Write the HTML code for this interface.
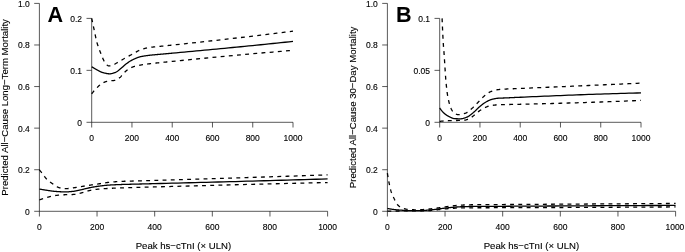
<!DOCTYPE html>
<html><head><meta charset="utf-8"><title>Figure</title>
<style>
html,body{margin:0;padding:0;background:#fff;}
body{width:685px;height:252px;overflow:hidden;}
svg{display:block;will-change:transform;font-family:"Liberation Sans",sans-serif;}
.ax{fill:none;stroke:#000;stroke-width:0.65;}
.so{fill:none;stroke:#000;stroke-width:1.3;stroke-linejoin:round;}
.da{fill:none;stroke:#000;stroke-width:1.3;stroke-dasharray:3.9 4.3;stroke-linejoin:round;}
.tk{font-size:8.5px;fill:#000;stroke:#000;stroke-width:0.12;}
.ti{font-size:9.6px;fill:#000;stroke:#000;stroke-width:0.12;}
.lt{font-size:21.6px;font-weight:bold;fill:#000;}
</style></head><body>
<svg width="685" height="252" viewBox="0 0 685 252">
<rect width="685" height="252" fill="#fff"/>
<path class="ax" d="M39.40 3.40 V211.30 H327.60"/>
<text class="tk" x="39.40" y="230.10" text-anchor="middle">0</text>
<text class="tk" x="97.04" y="230.10" text-anchor="middle">200</text>
<text class="tk" x="154.68" y="230.10" text-anchor="middle">400</text>
<text class="tk" x="212.32" y="230.10" text-anchor="middle">600</text>
<text class="tk" x="269.96" y="230.10" text-anchor="middle">800</text>
<text class="tk" x="327.60" y="230.10" text-anchor="middle">1000</text>
<text class="tk" x="29.80" y="214.80" text-anchor="end">0</text>
<text class="tk" x="29.80" y="173.22" text-anchor="end">0.2</text>
<text class="tk" x="29.80" y="131.64" text-anchor="end">0.4</text>
<text class="tk" x="29.80" y="90.06" text-anchor="end">0.6</text>
<text class="tk" x="29.80" y="48.48" text-anchor="end">0.8</text>
<text class="tk" x="29.80" y="6.90" text-anchor="end">1.0</text>
<path class="ax" d="M39.40 211.30 v5.2 M97.04 211.30 v5.2 M154.68 211.30 v5.2 M212.32 211.30 v5.2 M269.96 211.30 v5.2 M327.60 211.30 v5.2 M39.40 211.30 h-5.2 M39.40 169.72 h-5.2 M39.40 128.14 h-5.2 M39.40 86.56 h-5.2 M39.40 44.98 h-5.2 M39.40 3.40 h-5.2 "/>
<path class="ax" d="M91.70 18.40 V122.30 H293.00"/>
<text class="tk" x="91.70" y="140.80" text-anchor="middle">0</text>
<text class="tk" x="131.96" y="140.80" text-anchor="middle">200</text>
<text class="tk" x="172.22" y="140.80" text-anchor="middle">400</text>
<text class="tk" x="212.48" y="140.80" text-anchor="middle">600</text>
<text class="tk" x="252.74" y="140.80" text-anchor="middle">800</text>
<text class="tk" x="293.00" y="140.80" text-anchor="middle">1000</text>
<text class="tk" x="82.00" y="125.80" text-anchor="end">0</text>
<text class="tk" x="82.00" y="73.85" text-anchor="end">0.1</text>
<text class="tk" x="82.00" y="21.90" text-anchor="end">0.2</text>
<path class="ax" d="M91.70 122.30 v5.2 M131.96 122.30 v5.2 M172.22 122.30 v5.2 M212.48 122.30 v5.2 M252.74 122.30 v5.2 M293.00 122.30 v5.2 M91.70 122.30 h-5.2 M91.70 70.35 h-5.2 M91.70 18.40 h-5.2 "/>
<path class="da" d="M91.70 18.40 L91.80 18.87 L91.90 19.34 L92.00 19.82 L92.10 20.29 L92.20 20.76 L92.30 21.23 L92.40 21.70 L92.51 22.17 L92.61 22.64 L92.71 23.11 L92.81 23.58 L92.91 24.05 L93.01 24.51 L93.11 24.98 L93.21 25.45 L93.31 25.92 L93.41 26.39 L93.51 26.85 L93.61 27.32 L93.71 27.79 L93.81 28.25 L93.91 28.72 L94.01 29.18 L94.12 29.65 L94.22 30.11 L94.32 30.58 L94.42 31.05 L94.52 31.52 L94.62 32.01 L94.72 32.49 L94.82 32.98 L94.92 33.47 L95.02 33.97 L95.12 34.47 L95.22 34.96 L95.32 35.46 L95.42 35.95 L95.52 36.44 L95.63 36.93 L95.73 37.41 L95.83 37.89 L95.93 38.36 L96.03 38.82 L96.13 39.28 L96.23 39.73 L96.33 40.16 L96.43 40.59 L96.53 41.00 L96.63 41.40 L96.73 41.79 L96.83 42.16 L96.93 42.52 L97.03 42.87 L97.14 43.21 L97.24 43.55 L97.34 43.88 L97.44 44.21 L97.54 44.53 L97.64 44.85 L97.74 45.16 L97.84 45.47 L97.94 45.77 L98.04 46.07 L98.14 46.36 L98.24 46.65 L98.34 46.94 L98.44 47.23 L98.54 47.51 L98.64 47.78 L98.75 48.06 L98.85 48.33 L98.95 48.60 L99.05 48.86 L99.15 49.13 L99.25 49.39 L99.35 49.65 L99.45 49.90 L99.55 50.16 L99.65 50.41 L99.75 50.67 L99.85 50.92 L99.95 51.17 L100.05 51.42 L100.15 51.66 L100.26 51.91 L100.36 52.16 L100.46 52.41 L100.56 52.66 L100.66 52.90 L100.76 53.15 L100.86 53.40 L100.96 53.65 L101.06 53.90 L101.16 54.15 L101.26 54.41 L101.36 54.66 L101.46 54.92 L101.56 55.18 L101.66 55.44 L101.77 55.69 L101.87 55.95 L101.97 56.21 L102.07 56.47 L102.17 56.72 L102.27 56.98 L102.37 57.23 L102.47 57.48 L102.57 57.73 L102.67 57.98 L102.77 58.23 L102.87 58.47 L102.97 58.71 L103.07 58.95 L103.17 59.18 L103.27 59.41 L103.38 59.63 L103.48 59.85 L103.58 60.07 L103.68 60.28 L103.78 60.48 L104.18 61.24 L104.58 61.90 L104.99 62.44 L105.39 62.98 L105.79 63.50 L106.19 64.01 L106.60 64.48 L107.00 64.91 L107.40 65.28 L107.80 65.57 L108.21 65.78 L108.61 65.89 L109.01 65.90 L109.41 65.87 L109.82 65.83 L110.22 65.76 L110.62 65.68 L111.02 65.59 L111.43 65.49 L111.83 65.38 L112.23 65.27 L112.64 65.16 L113.04 65.02 L113.44 64.85 L113.84 64.66 L114.25 64.45 L114.65 64.22 L115.05 63.98 L115.45 63.73 L115.86 63.49 L116.26 63.25 L116.66 63.02 L117.06 62.80 L117.47 62.57 L117.87 62.34 L118.27 62.11 L118.67 61.87 L119.08 61.64 L119.48 61.40 L119.88 61.16 L120.28 60.91 L120.69 60.67 L121.09 60.43 L121.49 60.19 L121.90 59.94 L122.30 59.70 L122.70 59.46 L123.10 59.22 L123.51 58.99 L123.91 58.75 L124.31 58.52 L124.71 58.29 L125.12 58.07 L125.52 57.84 L125.92 57.62 L126.32 57.39 L126.73 57.17 L127.13 56.95 L127.53 56.73 L127.93 56.51 L128.34 56.29 L128.74 56.07 L129.14 55.85 L129.54 55.64 L129.95 55.42 L130.35 55.20 L130.75 54.99 L131.15 54.77 L131.56 54.56 L131.96 54.34 L132.36 54.13 L132.77 53.91 L133.17 53.69 L133.57 53.47 L133.97 53.24 L134.38 53.01 L134.78 52.78 L135.18 52.54 L135.58 52.31 L135.99 52.08 L136.39 51.85 L136.79 51.62 L137.19 51.40 L137.60 51.18 L138.00 50.97 L138.40 50.76 L138.80 50.57 L139.21 50.38 L139.61 50.20 L140.01 50.03 L140.41 49.87 L140.82 49.72 L141.22 49.58 L141.62 49.44 L142.03 49.30 L142.43 49.16 L142.83 49.03 L143.23 48.90 L143.64 48.77 L144.04 48.65 L144.44 48.53 L144.84 48.42 L145.25 48.31 L145.65 48.20 L146.05 48.10 L146.45 48.01 L146.86 47.91 L147.26 47.83 L147.66 47.75 L148.06 47.67 L148.47 47.61 L148.87 47.54 L149.27 47.48 L149.67 47.42 L150.08 47.37 L150.48 47.32 L150.88 47.27 L151.28 47.22 L151.69 47.18 L152.09 47.13 L152.49 47.09 L152.90 47.05 L153.30 47.01 L153.70 46.97 L154.10 46.93 L154.51 46.89 L154.91 46.85 L155.31 46.81 L155.71 46.77 L156.12 46.73 L156.52 46.69 L156.92 46.65 L157.32 46.60 L157.73 46.56 L158.13 46.52 L158.53 46.48 L158.93 46.44 L159.34 46.40 L159.74 46.36 L160.14 46.32 L160.54 46.28 L160.95 46.24 L161.35 46.21 L161.75 46.17 L162.16 46.13 L162.56 46.09 L162.96 46.05 L163.36 46.01 L163.77 45.97 L164.17 45.92 L164.57 45.88 L164.97 45.84 L165.38 45.80 L165.78 45.76 L166.18 45.71 L166.58 45.67 L166.99 45.63 L167.39 45.59 L167.79 45.54 L168.19 45.50 L168.60 45.46 L169.00 45.42 L169.40 45.38 L169.80 45.33 L170.21 45.29 L170.61 45.25 L171.01 45.21 L171.41 45.16 L171.82 45.12 L172.22 45.08 L176.25 44.65 L180.27 44.23 L184.30 43.80 L188.32 43.37 L192.35 42.93 L196.38 42.50 L200.40 42.06 L204.43 41.62 L208.45 41.18 L212.48 40.74 L216.51 40.29 L220.53 39.84 L224.56 39.39 L228.58 38.94 L232.61 38.48 L236.64 38.02 L240.66 37.55 L244.69 37.09 L248.71 36.62 L252.74 36.14 L256.77 35.66 L260.79 35.18 L264.82 34.70 L268.84 34.21 L272.87 33.72 L276.90 33.22 L280.92 32.72 L284.95 32.22 L288.97 31.71 L293.00 31.20"/>
<path class="da" d="M39.40 169.72 L39.54 169.91 L39.69 170.10 L39.83 170.29 L39.98 170.48 L40.12 170.66 L40.26 170.85 L40.41 171.04 L40.55 171.23 L40.70 171.42 L40.84 171.60 L40.99 171.79 L41.13 171.98 L41.27 172.17 L41.42 172.35 L41.56 172.54 L41.71 172.73 L41.85 172.92 L41.99 173.10 L42.14 173.29 L42.28 173.48 L42.43 173.66 L42.57 173.85 L42.71 174.04 L42.86 174.22 L43.00 174.41 L43.15 174.59 L43.29 174.78 L43.43 174.97 L43.58 175.16 L43.72 175.36 L43.87 175.56 L44.01 175.75 L44.16 175.95 L44.30 176.15 L44.44 176.35 L44.59 176.55 L44.73 176.74 L44.88 176.94 L45.02 177.14 L45.16 177.33 L45.31 177.52 L45.45 177.71 L45.60 177.89 L45.74 178.08 L45.88 178.25 L46.03 178.43 L46.17 178.60 L46.32 178.77 L46.46 178.93 L46.61 179.08 L46.75 179.23 L46.89 179.37 L47.04 179.51 L47.18 179.65 L47.33 179.78 L47.47 179.92 L47.61 180.05 L47.76 180.18 L47.90 180.30 L48.05 180.43 L48.19 180.55 L48.33 180.67 L48.48 180.79 L48.62 180.91 L48.77 181.03 L48.91 181.14 L49.05 181.26 L49.20 181.37 L49.34 181.48 L49.49 181.59 L49.63 181.70 L49.78 181.80 L49.92 181.91 L50.06 182.02 L50.21 182.12 L50.35 182.22 L50.50 182.33 L50.64 182.43 L50.78 182.53 L50.93 182.63 L51.07 182.73 L51.22 182.83 L51.36 182.93 L51.50 183.03 L51.65 183.13 L51.79 183.23 L51.94 183.33 L52.08 183.43 L52.22 183.53 L52.37 183.63 L52.51 183.73 L52.66 183.83 L52.80 183.93 L52.95 184.03 L53.09 184.13 L53.23 184.23 L53.38 184.33 L53.52 184.44 L53.67 184.54 L53.81 184.64 L53.95 184.75 L54.10 184.85 L54.24 184.95 L54.39 185.06 L54.53 185.16 L54.67 185.26 L54.82 185.36 L54.96 185.46 L55.11 185.56 L55.25 185.66 L55.40 185.76 L55.54 185.85 L55.68 185.95 L55.83 186.04 L55.97 186.13 L56.12 186.22 L56.26 186.31 L56.40 186.39 L56.55 186.48 L56.69 186.56 L57.27 186.86 L57.84 187.13 L58.42 187.35 L59.00 187.56 L59.57 187.77 L60.15 187.97 L60.73 188.16 L61.30 188.33 L61.88 188.48 L62.46 188.60 L63.03 188.68 L63.61 188.72 L64.19 188.73 L64.76 188.72 L65.34 188.70 L65.91 188.67 L66.49 188.64 L67.07 188.61 L67.64 188.57 L68.22 188.52 L68.80 188.48 L69.37 188.43 L69.95 188.38 L70.53 188.31 L71.10 188.23 L71.68 188.15 L72.25 188.06 L72.83 187.96 L73.41 187.86 L73.98 187.76 L74.56 187.67 L75.14 187.58 L75.71 187.49 L76.29 187.40 L76.87 187.31 L77.44 187.21 L78.02 187.12 L78.60 187.02 L79.17 186.93 L79.75 186.83 L80.32 186.73 L80.90 186.64 L81.48 186.54 L82.05 186.44 L82.63 186.35 L83.21 186.25 L83.78 186.15 L84.36 186.06 L84.94 185.96 L85.51 185.87 L86.09 185.78 L86.66 185.68 L87.24 185.59 L87.82 185.50 L88.39 185.41 L88.97 185.32 L89.55 185.24 L90.12 185.15 L90.70 185.06 L91.28 184.97 L91.85 184.88 L92.43 184.80 L93.01 184.71 L93.58 184.62 L94.16 184.54 L94.73 184.45 L95.31 184.36 L95.89 184.28 L96.46 184.19 L97.04 184.10 L97.62 184.02 L98.19 183.93 L98.77 183.84 L99.35 183.75 L99.92 183.66 L100.50 183.57 L101.07 183.48 L101.65 183.38 L102.23 183.29 L102.80 183.20 L103.38 183.11 L103.96 183.02 L104.53 182.93 L105.11 182.84 L105.69 182.75 L106.26 182.67 L106.84 182.59 L107.42 182.52 L107.99 182.44 L108.57 182.38 L109.14 182.31 L109.72 182.25 L110.30 182.20 L110.87 182.14 L111.45 182.08 L112.03 182.03 L112.60 181.98 L113.18 181.93 L113.76 181.87 L114.33 181.83 L114.91 181.78 L115.48 181.73 L116.06 181.69 L116.64 181.65 L117.21 181.61 L117.79 181.57 L118.37 181.53 L118.94 181.50 L119.52 181.47 L120.10 181.44 L120.67 181.41 L121.25 181.38 L121.83 181.36 L122.40 181.34 L122.98 181.31 L123.55 181.29 L124.13 181.27 L124.71 181.25 L125.28 181.24 L125.86 181.22 L126.44 181.20 L127.01 181.19 L127.59 181.17 L128.17 181.15 L128.74 181.14 L129.32 181.12 L129.89 181.11 L130.47 181.09 L131.05 181.07 L131.62 181.06 L132.20 181.04 L132.78 181.02 L133.35 181.01 L133.93 180.99 L134.51 180.97 L135.08 180.96 L135.66 180.94 L136.24 180.93 L136.81 180.91 L137.39 180.89 L137.96 180.88 L138.54 180.86 L139.12 180.85 L139.69 180.83 L140.27 180.82 L140.85 180.80 L141.42 180.78 L142.00 180.77 L142.58 180.75 L143.15 180.73 L143.73 180.72 L144.30 180.70 L144.88 180.68 L145.46 180.67 L146.03 180.65 L146.61 180.63 L147.19 180.62 L147.76 180.60 L148.34 180.58 L148.92 180.57 L149.49 180.55 L150.07 180.53 L150.65 180.52 L151.22 180.50 L151.80 180.48 L152.37 180.46 L152.95 180.45 L153.53 180.43 L154.10 180.41 L154.68 180.40 L160.44 180.23 L166.21 180.06 L171.97 179.88 L177.74 179.71 L183.50 179.54 L189.26 179.36 L195.03 179.19 L200.79 179.01 L206.56 178.84 L212.32 178.66 L218.08 178.48 L223.85 178.30 L229.61 178.12 L235.38 177.94 L241.14 177.75 L246.90 177.57 L252.67 177.38 L258.43 177.20 L264.20 177.01 L269.96 176.82 L275.72 176.63 L281.49 176.44 L287.25 176.24 L293.02 176.05 L298.78 175.85 L304.54 175.65 L310.31 175.45 L316.07 175.25 L321.84 175.05 L327.60 174.84"/>
<path class="so" d="M91.70 66.70 L91.80 66.77 L91.90 66.83 L92.00 66.90 L92.10 66.96 L92.20 67.03 L92.30 67.09 L92.40 67.15 L92.51 67.22 L92.61 67.28 L92.71 67.35 L92.81 67.41 L92.91 67.47 L93.01 67.54 L93.11 67.60 L93.21 67.66 L93.31 67.72 L93.41 67.79 L93.51 67.85 L93.61 67.91 L93.71 67.97 L93.81 68.03 L93.91 68.09 L94.01 68.15 L94.12 68.22 L94.22 68.28 L94.32 68.34 L94.42 68.40 L94.52 68.46 L94.62 68.52 L94.72 68.58 L94.82 68.63 L94.92 68.69 L95.02 68.75 L95.12 68.81 L95.22 68.87 L95.32 68.93 L95.42 68.98 L95.52 69.04 L95.63 69.10 L95.73 69.16 L95.83 69.21 L95.93 69.27 L96.03 69.32 L96.13 69.38 L96.23 69.44 L96.33 69.49 L96.43 69.55 L96.53 69.60 L96.63 69.66 L96.73 69.71 L96.83 69.76 L96.93 69.82 L97.03 69.87 L97.14 69.93 L97.24 69.98 L97.34 70.04 L97.44 70.09 L97.54 70.15 L97.64 70.20 L97.74 70.26 L97.84 70.31 L97.94 70.37 L98.04 70.43 L98.14 70.48 L98.24 70.54 L98.34 70.60 L98.44 70.65 L98.54 70.71 L98.64 70.76 L98.75 70.82 L98.85 70.87 L98.95 70.93 L99.05 70.99 L99.15 71.04 L99.25 71.09 L99.35 71.15 L99.45 71.20 L99.55 71.26 L99.65 71.31 L99.75 71.36 L99.85 71.41 L99.95 71.47 L100.05 71.52 L100.15 71.57 L100.26 71.62 L100.36 71.67 L100.46 71.71 L100.56 71.76 L100.66 71.81 L100.76 71.85 L100.86 71.90 L100.96 71.94 L101.06 71.99 L101.16 72.03 L101.26 72.07 L101.36 72.11 L101.46 72.15 L101.56 72.19 L101.66 72.23 L101.77 72.27 L101.87 72.30 L101.97 72.34 L102.07 72.37 L102.17 72.40 L102.27 72.43 L102.37 72.46 L102.47 72.49 L102.57 72.52 L102.67 72.55 L102.77 72.57 L102.87 72.60 L102.97 72.63 L103.07 72.65 L103.17 72.68 L103.27 72.71 L103.38 72.74 L103.48 72.76 L103.58 72.79 L103.68 72.82 L103.78 72.84 L104.18 72.95 L104.58 73.05 L104.99 73.15 L105.39 73.24 L105.79 73.33 L106.19 73.42 L106.60 73.50 L107.00 73.57 L107.40 73.63 L107.80 73.68 L108.21 73.73 L108.61 73.76 L109.01 73.79 L109.41 73.80 L109.82 73.80 L110.22 73.78 L110.62 73.74 L111.02 73.69 L111.43 73.62 L111.83 73.53 L112.23 73.44 L112.64 73.33 L113.04 73.22 L113.44 73.09 L113.84 72.96 L114.25 72.83 L114.65 72.69 L115.05 72.55 L115.45 72.40 L115.86 72.22 L116.26 72.01 L116.66 71.77 L117.06 71.50 L117.47 71.21 L117.87 70.91 L118.27 70.59 L118.67 70.26 L119.08 69.93 L119.48 69.59 L119.88 69.26 L120.28 68.93 L120.69 68.61 L121.09 68.29 L121.49 67.96 L121.90 67.61 L122.30 67.26 L122.70 66.90 L123.10 66.53 L123.51 66.16 L123.91 65.80 L124.31 65.44 L124.71 65.08 L125.12 64.74 L125.52 64.40 L125.92 64.09 L126.32 63.78 L126.73 63.49 L127.13 63.20 L127.53 62.91 L127.93 62.63 L128.34 62.35 L128.74 62.08 L129.14 61.81 L129.54 61.55 L129.95 61.29 L130.35 61.04 L130.75 60.80 L131.15 60.57 L131.56 60.34 L131.96 60.12 L132.36 59.92 L132.77 59.72 L133.17 59.53 L133.57 59.33 L133.97 59.14 L134.38 58.96 L134.78 58.77 L135.18 58.60 L135.58 58.42 L135.99 58.25 L136.39 58.08 L136.79 57.92 L137.19 57.76 L137.60 57.61 L138.00 57.47 L138.40 57.33 L138.80 57.20 L139.21 57.07 L139.61 56.95 L140.01 56.84 L140.41 56.74 L140.82 56.65 L141.22 56.56 L141.62 56.48 L142.03 56.39 L142.43 56.31 L142.83 56.24 L143.23 56.17 L143.64 56.10 L144.04 56.03 L144.44 55.96 L144.84 55.90 L145.25 55.84 L145.65 55.78 L146.05 55.72 L146.45 55.67 L146.86 55.61 L147.26 55.56 L147.66 55.51 L148.06 55.45 L148.47 55.40 L148.87 55.35 L149.27 55.31 L149.67 55.26 L150.08 55.21 L150.48 55.17 L150.88 55.13 L151.28 55.09 L151.69 55.04 L152.09 55.00 L152.49 54.96 L152.90 54.93 L153.30 54.89 L153.70 54.85 L154.10 54.81 L154.51 54.78 L154.91 54.74 L155.31 54.70 L155.71 54.66 L156.12 54.63 L156.52 54.59 L156.92 54.55 L157.32 54.51 L157.73 54.48 L158.13 54.44 L158.53 54.41 L158.93 54.37 L159.34 54.34 L159.74 54.30 L160.14 54.27 L160.54 54.23 L160.95 54.20 L161.35 54.17 L161.75 54.13 L162.16 54.10 L162.56 54.06 L162.96 54.03 L163.36 53.99 L163.77 53.96 L164.17 53.92 L164.57 53.88 L164.97 53.85 L165.38 53.81 L165.78 53.77 L166.18 53.74 L166.58 53.70 L166.99 53.67 L167.39 53.63 L167.79 53.59 L168.19 53.56 L168.60 53.52 L169.00 53.48 L169.40 53.45 L169.80 53.41 L170.21 53.37 L170.61 53.34 L171.01 53.30 L171.41 53.26 L171.82 53.23 L172.22 53.19 L176.25 52.82 L180.27 52.45 L184.30 52.08 L188.32 51.71 L192.35 51.34 L196.38 50.96 L200.40 50.59 L204.43 50.21 L208.45 49.83 L212.48 49.45 L216.51 49.07 L220.53 48.69 L224.56 48.30 L228.58 47.91 L232.61 47.52 L236.64 47.13 L240.66 46.74 L244.69 46.34 L248.71 45.94 L252.74 45.54 L256.77 45.14 L260.79 44.74 L264.82 44.33 L268.84 43.92 L272.87 43.50 L276.90 43.09 L280.92 42.67 L284.95 42.25 L288.97 41.83 L293.00 41.40"/>
<path class="so" d="M39.40 189.05 L39.54 189.08 L39.69 189.10 L39.83 189.13 L39.98 189.15 L40.12 189.18 L40.26 189.21 L40.41 189.23 L40.55 189.26 L40.70 189.28 L40.84 189.31 L40.99 189.33 L41.13 189.36 L41.27 189.38 L41.42 189.41 L41.56 189.43 L41.71 189.46 L41.85 189.48 L41.99 189.51 L42.14 189.53 L42.28 189.56 L42.43 189.58 L42.57 189.61 L42.71 189.63 L42.86 189.66 L43.00 189.68 L43.15 189.70 L43.29 189.73 L43.43 189.75 L43.58 189.78 L43.72 189.80 L43.87 189.82 L44.01 189.85 L44.16 189.87 L44.30 189.89 L44.44 189.92 L44.59 189.94 L44.73 189.96 L44.88 189.99 L45.02 190.01 L45.16 190.03 L45.31 190.05 L45.45 190.08 L45.60 190.10 L45.74 190.12 L45.88 190.14 L46.03 190.17 L46.17 190.19 L46.32 190.21 L46.46 190.23 L46.61 190.25 L46.75 190.28 L46.89 190.30 L47.04 190.32 L47.18 190.34 L47.33 190.36 L47.47 190.38 L47.61 190.41 L47.76 190.43 L47.90 190.45 L48.05 190.47 L48.19 190.50 L48.33 190.52 L48.48 190.54 L48.62 190.56 L48.77 190.59 L48.91 190.61 L49.05 190.63 L49.20 190.65 L49.34 190.68 L49.49 190.70 L49.63 190.72 L49.78 190.74 L49.92 190.76 L50.06 190.79 L50.21 190.81 L50.35 190.83 L50.50 190.85 L50.64 190.87 L50.78 190.89 L50.93 190.91 L51.07 190.94 L51.22 190.96 L51.36 190.98 L51.50 191.00 L51.65 191.02 L51.79 191.04 L51.94 191.06 L52.08 191.07 L52.22 191.09 L52.37 191.11 L52.51 191.13 L52.66 191.15 L52.80 191.17 L52.95 191.18 L53.09 191.20 L53.23 191.22 L53.38 191.23 L53.52 191.25 L53.67 191.26 L53.81 191.28 L53.95 191.29 L54.10 191.31 L54.24 191.32 L54.39 191.33 L54.53 191.34 L54.67 191.36 L54.82 191.37 L54.96 191.38 L55.11 191.39 L55.25 191.40 L55.40 191.41 L55.54 191.42 L55.68 191.43 L55.83 191.44 L55.97 191.45 L56.12 191.46 L56.26 191.48 L56.40 191.49 L56.55 191.50 L56.69 191.51 L57.27 191.55 L57.84 191.59 L58.42 191.63 L59.00 191.67 L59.57 191.70 L60.15 191.74 L60.73 191.77 L61.30 191.80 L61.88 191.82 L62.46 191.84 L63.03 191.86 L63.61 191.88 L64.19 191.89 L64.76 191.89 L65.34 191.89 L65.91 191.88 L66.49 191.87 L67.07 191.84 L67.64 191.82 L68.22 191.78 L68.80 191.75 L69.37 191.70 L69.95 191.66 L70.53 191.61 L71.10 191.56 L71.68 191.50 L72.25 191.45 L72.83 191.39 L73.41 191.33 L73.98 191.26 L74.56 191.17 L75.14 191.08 L75.71 190.97 L76.29 190.85 L76.87 190.73 L77.44 190.61 L78.02 190.47 L78.60 190.34 L79.17 190.21 L79.75 190.07 L80.32 189.94 L80.90 189.81 L81.48 189.69 L82.05 189.55 L82.63 189.41 L83.21 189.27 L83.78 189.13 L84.36 188.98 L84.94 188.83 L85.51 188.69 L86.09 188.54 L86.66 188.40 L87.24 188.26 L87.82 188.13 L88.39 188.00 L88.97 187.88 L89.55 187.76 L90.12 187.65 L90.70 187.53 L91.28 187.42 L91.85 187.31 L92.43 187.20 L93.01 187.09 L93.58 186.99 L94.16 186.88 L94.73 186.78 L95.31 186.69 L95.89 186.59 L96.46 186.50 L97.04 186.42 L97.62 186.33 L98.19 186.26 L98.77 186.18 L99.35 186.10 L99.92 186.03 L100.50 185.95 L101.07 185.88 L101.65 185.81 L102.23 185.74 L102.80 185.67 L103.38 185.60 L103.96 185.54 L104.53 185.47 L105.11 185.41 L105.69 185.35 L106.26 185.30 L106.84 185.25 L107.42 185.20 L107.99 185.15 L108.57 185.11 L109.14 185.06 L109.72 185.03 L110.30 184.99 L110.87 184.96 L111.45 184.92 L112.03 184.89 L112.60 184.86 L113.18 184.83 L113.76 184.81 L114.33 184.78 L114.91 184.75 L115.48 184.73 L116.06 184.70 L116.64 184.68 L117.21 184.66 L117.79 184.63 L118.37 184.61 L118.94 184.59 L119.52 184.57 L120.10 184.55 L120.67 184.53 L121.25 184.51 L121.83 184.49 L122.40 184.47 L122.98 184.45 L123.55 184.44 L124.13 184.42 L124.71 184.40 L125.28 184.38 L125.86 184.37 L126.44 184.35 L127.01 184.34 L127.59 184.32 L128.17 184.31 L128.74 184.29 L129.32 184.28 L129.89 184.26 L130.47 184.25 L131.05 184.23 L131.62 184.22 L132.20 184.20 L132.78 184.19 L133.35 184.17 L133.93 184.16 L134.51 184.14 L135.08 184.13 L135.66 184.12 L136.24 184.10 L136.81 184.09 L137.39 184.07 L137.96 184.06 L138.54 184.05 L139.12 184.03 L139.69 184.02 L140.27 184.01 L140.85 183.99 L141.42 183.98 L142.00 183.96 L142.58 183.95 L143.15 183.94 L143.73 183.92 L144.30 183.91 L144.88 183.89 L145.46 183.88 L146.03 183.86 L146.61 183.85 L147.19 183.83 L147.76 183.82 L148.34 183.80 L148.92 183.79 L149.49 183.77 L150.07 183.76 L150.65 183.74 L151.22 183.73 L151.80 183.72 L152.37 183.70 L152.95 183.69 L153.53 183.67 L154.10 183.66 L154.68 183.64 L160.44 183.50 L166.21 183.35 L171.97 183.20 L177.74 183.05 L183.50 182.90 L189.26 182.75 L195.03 182.60 L200.79 182.45 L206.56 182.30 L212.32 182.15 L218.08 181.99 L223.85 181.84 L229.61 181.69 L235.38 181.53 L241.14 181.37 L246.90 181.22 L252.67 181.06 L258.43 180.90 L264.20 180.74 L269.96 180.58 L275.72 180.42 L281.49 180.26 L287.25 180.10 L293.02 179.93 L298.78 179.77 L304.54 179.60 L310.31 179.43 L316.07 179.26 L321.84 179.10 L327.60 178.92"/>
<path class="da" d="M91.70 93.80 L91.80 93.67 L91.90 93.54 L92.00 93.41 L92.10 93.28 L92.20 93.15 L92.30 93.03 L92.40 92.90 L92.51 92.77 L92.61 92.64 L92.71 92.52 L92.81 92.39 L92.91 92.27 L93.01 92.14 L93.11 92.02 L93.21 91.90 L93.31 91.77 L93.41 91.65 L93.51 91.53 L93.61 91.41 L93.71 91.29 L93.81 91.17 L93.91 91.05 L94.01 90.93 L94.12 90.81 L94.22 90.70 L94.32 90.58 L94.42 90.46 L94.52 90.35 L94.62 90.23 L94.72 90.12 L94.82 90.00 L94.92 89.89 L95.02 89.78 L95.12 89.66 L95.22 89.55 L95.32 89.44 L95.42 89.33 L95.52 89.22 L95.63 89.11 L95.73 89.01 L95.83 88.90 L95.93 88.79 L96.03 88.69 L96.13 88.58 L96.23 88.48 L96.33 88.37 L96.43 88.27 L96.53 88.17 L96.63 88.07 L96.73 87.97 L96.83 87.87 L96.93 87.77 L97.03 87.67 L97.14 87.57 L97.24 87.47 L97.34 87.37 L97.44 87.27 L97.54 87.16 L97.64 87.06 L97.74 86.96 L97.84 86.86 L97.94 86.76 L98.04 86.66 L98.14 86.56 L98.24 86.45 L98.34 86.35 L98.44 86.25 L98.54 86.15 L98.64 86.05 L98.75 85.95 L98.85 85.85 L98.95 85.75 L99.05 85.66 L99.15 85.56 L99.25 85.46 L99.35 85.37 L99.45 85.27 L99.55 85.18 L99.65 85.08 L99.75 84.99 L99.85 84.90 L99.95 84.81 L100.05 84.72 L100.15 84.63 L100.26 84.54 L100.36 84.45 L100.46 84.37 L100.56 84.29 L100.66 84.20 L100.76 84.12 L100.86 84.04 L100.96 83.97 L101.06 83.89 L101.16 83.81 L101.26 83.74 L101.36 83.67 L101.46 83.60 L101.56 83.53 L101.66 83.47 L101.77 83.40 L101.87 83.34 L101.97 83.28 L102.07 83.22 L102.17 83.17 L102.27 83.11 L102.37 83.06 L102.47 83.01 L102.57 82.97 L102.67 82.92 L102.77 82.87 L102.87 82.83 L102.97 82.78 L103.07 82.74 L103.17 82.70 L103.27 82.65 L103.38 82.61 L103.48 82.57 L103.58 82.52 L103.68 82.48 L103.78 82.44 L104.18 82.28 L104.58 82.13 L104.99 81.98 L105.39 81.85 L105.79 81.72 L106.19 81.59 L106.60 81.48 L107.00 81.37 L107.40 81.28 L107.80 81.19 L108.21 81.11 L108.61 81.03 L109.01 80.97 L109.41 80.91 L109.82 80.86 L110.22 80.82 L110.62 80.78 L111.02 80.75 L111.43 80.72 L111.83 80.69 L112.23 80.66 L112.64 80.62 L113.04 80.59 L113.44 80.55 L113.84 80.51 L114.25 80.45 L114.65 80.40 L115.05 80.33 L115.45 80.24 L115.86 80.12 L116.26 79.96 L116.66 79.77 L117.06 79.54 L117.47 79.30 L117.87 79.03 L118.27 78.74 L118.67 78.44 L119.08 78.14 L119.48 77.83 L119.88 77.51 L120.28 77.18 L120.69 76.79 L121.09 76.37 L121.49 75.91 L121.90 75.43 L122.30 74.94 L122.70 74.44 L123.10 73.95 L123.51 73.47 L123.91 73.01 L124.31 72.58 L124.71 72.19 L125.12 71.82 L125.52 71.45 L125.92 71.09 L126.32 70.74 L126.73 70.39 L127.13 70.06 L127.53 69.74 L127.93 69.44 L128.34 69.15 L128.74 68.88 L129.14 68.64 L129.54 68.42 L129.95 68.22 L130.35 68.01 L130.75 67.82 L131.15 67.63 L131.56 67.45 L131.96 67.28 L132.36 67.11 L132.77 66.96 L133.17 66.80 L133.57 66.66 L133.97 66.52 L134.38 66.39 L134.78 66.27 L135.18 66.16 L135.58 66.05 L135.99 65.96 L136.39 65.86 L136.79 65.77 L137.19 65.68 L137.60 65.59 L138.00 65.51 L138.40 65.43 L138.80 65.35 L139.21 65.27 L139.61 65.20 L140.01 65.12 L140.41 65.05 L140.82 64.99 L141.22 64.92 L141.62 64.85 L142.03 64.79 L142.43 64.73 L142.83 64.67 L143.23 64.61 L143.64 64.55 L144.04 64.49 L144.44 64.44 L144.84 64.38 L145.25 64.33 L145.65 64.27 L146.05 64.22 L146.45 64.17 L146.86 64.11 L147.26 64.06 L147.66 64.01 L148.06 63.96 L148.47 63.90 L148.87 63.85 L149.27 63.80 L149.67 63.75 L150.08 63.70 L150.48 63.65 L150.88 63.60 L151.28 63.55 L151.69 63.51 L152.09 63.46 L152.49 63.41 L152.90 63.37 L153.30 63.32 L153.70 63.28 L154.10 63.24 L154.51 63.19 L154.91 63.15 L155.31 63.11 L155.71 63.07 L156.12 63.02 L156.52 62.98 L156.92 62.94 L157.32 62.90 L157.73 62.86 L158.13 62.82 L158.53 62.78 L158.93 62.74 L159.34 62.70 L159.74 62.66 L160.14 62.62 L160.54 62.58 L160.95 62.54 L161.35 62.50 L161.75 62.46 L162.16 62.42 L162.56 62.38 L162.96 62.34 L163.36 62.30 L163.77 62.26 L164.17 62.22 L164.57 62.18 L164.97 62.14 L165.38 62.10 L165.78 62.06 L166.18 62.02 L166.58 61.98 L166.99 61.94 L167.39 61.90 L167.79 61.86 L168.19 61.82 L168.60 61.78 L169.00 61.74 L169.40 61.70 L169.80 61.66 L170.21 61.62 L170.61 61.58 L171.01 61.54 L171.41 61.50 L171.82 61.45 L172.22 61.41 L176.25 61.01 L180.27 60.61 L184.30 60.21 L188.32 59.81 L192.35 59.42 L196.38 59.02 L200.40 58.63 L204.43 58.24 L208.45 57.85 L212.48 57.47 L216.51 57.08 L220.53 56.70 L224.56 56.32 L228.58 55.95 L232.61 55.58 L236.64 55.21 L240.66 54.84 L244.69 54.48 L248.71 54.12 L252.74 53.76 L256.77 53.41 L260.79 53.06 L264.82 52.71 L268.84 52.37 L272.87 52.03 L276.90 51.70 L280.92 51.37 L284.95 51.04 L288.97 50.72 L293.00 50.40"/>
<path class="da" d="M39.40 199.89 L39.54 199.84 L39.69 199.79 L39.83 199.74 L39.98 199.69 L40.12 199.64 L40.26 199.58 L40.41 199.53 L40.55 199.48 L40.70 199.43 L40.84 199.38 L40.99 199.33 L41.13 199.28 L41.27 199.23 L41.42 199.18 L41.56 199.13 L41.71 199.08 L41.85 199.03 L41.99 198.99 L42.14 198.94 L42.28 198.89 L42.43 198.84 L42.57 198.79 L42.71 198.75 L42.86 198.70 L43.00 198.65 L43.15 198.61 L43.29 198.56 L43.43 198.51 L43.58 198.47 L43.72 198.42 L43.87 198.37 L44.01 198.33 L44.16 198.28 L44.30 198.24 L44.44 198.20 L44.59 198.15 L44.73 198.11 L44.88 198.06 L45.02 198.02 L45.16 197.98 L45.31 197.93 L45.45 197.89 L45.60 197.85 L45.74 197.81 L45.88 197.76 L46.03 197.72 L46.17 197.68 L46.32 197.64 L46.46 197.60 L46.61 197.56 L46.75 197.52 L46.89 197.48 L47.04 197.44 L47.18 197.40 L47.33 197.36 L47.47 197.32 L47.61 197.28 L47.76 197.24 L47.90 197.20 L48.05 197.16 L48.19 197.12 L48.33 197.08 L48.48 197.04 L48.62 197.00 L48.77 196.95 L48.91 196.91 L49.05 196.87 L49.20 196.83 L49.34 196.79 L49.49 196.75 L49.63 196.71 L49.78 196.67 L49.92 196.64 L50.06 196.60 L50.21 196.56 L50.35 196.52 L50.50 196.48 L50.64 196.44 L50.78 196.41 L50.93 196.37 L51.07 196.33 L51.22 196.30 L51.36 196.26 L51.50 196.22 L51.65 196.19 L51.79 196.15 L51.94 196.12 L52.08 196.09 L52.22 196.05 L52.37 196.02 L52.51 195.99 L52.66 195.96 L52.80 195.93 L52.95 195.90 L53.09 195.87 L53.23 195.84 L53.38 195.81 L53.52 195.79 L53.67 195.76 L53.81 195.73 L53.95 195.71 L54.10 195.69 L54.24 195.66 L54.39 195.64 L54.53 195.62 L54.67 195.60 L54.82 195.58 L54.96 195.56 L55.11 195.54 L55.25 195.52 L55.40 195.50 L55.54 195.49 L55.68 195.47 L55.83 195.45 L55.97 195.43 L56.12 195.42 L56.26 195.40 L56.40 195.38 L56.55 195.37 L56.69 195.35 L57.27 195.28 L57.84 195.22 L58.42 195.17 L59.00 195.11 L59.57 195.06 L60.15 195.01 L60.73 194.96 L61.30 194.92 L61.88 194.88 L62.46 194.85 L63.03 194.81 L63.61 194.78 L64.19 194.76 L64.76 194.74 L65.34 194.72 L65.91 194.70 L66.49 194.68 L67.07 194.67 L67.64 194.66 L68.22 194.65 L68.80 194.63 L69.37 194.62 L69.95 194.61 L70.53 194.59 L71.10 194.57 L71.68 194.55 L72.25 194.53 L72.83 194.50 L73.41 194.47 L73.98 194.42 L74.56 194.36 L75.14 194.28 L75.71 194.19 L76.29 194.09 L76.87 193.98 L77.44 193.87 L78.02 193.75 L78.60 193.63 L79.17 193.50 L79.75 193.38 L80.32 193.24 L80.90 193.09 L81.48 192.92 L82.05 192.74 L82.63 192.54 L83.21 192.35 L83.78 192.15 L84.36 191.95 L84.94 191.76 L85.51 191.57 L86.09 191.40 L86.66 191.25 L87.24 191.10 L87.82 190.95 L88.39 190.81 L88.97 190.66 L89.55 190.53 L90.12 190.39 L90.70 190.27 L91.28 190.14 L91.85 190.03 L92.43 189.92 L93.01 189.83 L93.58 189.74 L94.16 189.66 L94.73 189.58 L95.31 189.50 L95.89 189.42 L96.46 189.35 L97.04 189.28 L97.62 189.21 L98.19 189.15 L98.77 189.09 L99.35 189.03 L99.92 188.98 L100.50 188.93 L101.07 188.88 L101.65 188.83 L102.23 188.79 L102.80 188.75 L103.38 188.71 L103.96 188.68 L104.53 188.64 L105.11 188.61 L105.69 188.57 L106.26 188.54 L106.84 188.51 L107.42 188.48 L107.99 188.45 L108.57 188.42 L109.14 188.39 L109.72 188.36 L110.30 188.34 L110.87 188.31 L111.45 188.29 L112.03 188.26 L112.60 188.24 L113.18 188.21 L113.76 188.19 L114.33 188.17 L114.91 188.14 L115.48 188.12 L116.06 188.10 L116.64 188.08 L117.21 188.06 L117.79 188.04 L118.37 188.01 L118.94 187.99 L119.52 187.97 L120.10 187.95 L120.67 187.93 L121.25 187.91 L121.83 187.89 L122.40 187.87 L122.98 187.85 L123.55 187.83 L124.13 187.81 L124.71 187.79 L125.28 187.77 L125.86 187.75 L126.44 187.73 L127.01 187.72 L127.59 187.70 L128.17 187.68 L128.74 187.66 L129.32 187.65 L129.89 187.63 L130.47 187.61 L131.05 187.60 L131.62 187.58 L132.20 187.56 L132.78 187.55 L133.35 187.53 L133.93 187.51 L134.51 187.50 L135.08 187.48 L135.66 187.46 L136.24 187.45 L136.81 187.43 L137.39 187.42 L137.96 187.40 L138.54 187.39 L139.12 187.37 L139.69 187.35 L140.27 187.34 L140.85 187.32 L141.42 187.31 L142.00 187.29 L142.58 187.27 L143.15 187.26 L143.73 187.24 L144.30 187.23 L144.88 187.21 L145.46 187.19 L146.03 187.18 L146.61 187.16 L147.19 187.14 L147.76 187.13 L148.34 187.11 L148.92 187.10 L149.49 187.08 L150.07 187.06 L150.65 187.05 L151.22 187.03 L151.80 187.01 L152.37 187.00 L152.95 186.98 L153.53 186.97 L154.10 186.95 L154.68 186.93 L160.44 186.77 L166.21 186.61 L171.97 186.45 L177.74 186.29 L183.50 186.13 L189.26 185.98 L195.03 185.82 L200.79 185.66 L206.56 185.51 L212.32 185.35 L218.08 185.20 L223.85 185.05 L229.61 184.90 L235.38 184.75 L241.14 184.60 L246.90 184.45 L252.67 184.30 L258.43 184.16 L264.20 184.01 L269.96 183.87 L275.72 183.73 L281.49 183.59 L287.25 183.45 L293.02 183.31 L298.78 183.18 L304.54 183.04 L310.31 182.91 L316.07 182.78 L321.84 182.65 L327.60 182.53"/>
<text class="lt" x="47.40" y="21.6">A</text>
<text class="ti" x="183.40" y="249.0" text-anchor="middle">Peak hs−cTnI (× ULN)</text>
<text class="ti" transform="translate(7.90 107.4) rotate(-90)" text-anchor="middle">Predicted All−Cause Long−Term Mortality</text>
<path class="ax" d="M387.40 3.40 V211.30 H675.60"/>
<text class="tk" x="387.40" y="230.10" text-anchor="middle">0</text>
<text class="tk" x="445.04" y="230.10" text-anchor="middle">200</text>
<text class="tk" x="502.68" y="230.10" text-anchor="middle">400</text>
<text class="tk" x="560.32" y="230.10" text-anchor="middle">600</text>
<text class="tk" x="617.96" y="230.10" text-anchor="middle">800</text>
<text class="tk" x="674.90" y="230.10" text-anchor="middle">1000</text>
<text class="tk" x="377.80" y="214.80" text-anchor="end">0</text>
<text class="tk" x="377.80" y="173.22" text-anchor="end">0.2</text>
<text class="tk" x="377.80" y="131.64" text-anchor="end">0.4</text>
<text class="tk" x="377.80" y="90.06" text-anchor="end">0.6</text>
<text class="tk" x="377.80" y="48.48" text-anchor="end">0.8</text>
<text class="tk" x="377.80" y="6.90" text-anchor="end">1.0</text>
<path class="ax" d="M387.40 211.30 v5.2 M445.04 211.30 v5.2 M502.68 211.30 v5.2 M560.32 211.30 v5.2 M617.96 211.30 v5.2 M675.60 211.30 v5.2 M387.40 211.30 h-5.2 M387.40 169.72 h-5.2 M387.40 128.14 h-5.2 M387.40 86.56 h-5.2 M387.40 44.98 h-5.2 M387.40 3.40 h-5.2 "/>
<path class="ax" d="M439.70 18.40 V122.30 H641.00"/>
<text class="tk" x="439.70" y="140.80" text-anchor="middle">0</text>
<text class="tk" x="479.96" y="140.80" text-anchor="middle">200</text>
<text class="tk" x="520.22" y="140.80" text-anchor="middle">400</text>
<text class="tk" x="560.48" y="140.80" text-anchor="middle">600</text>
<text class="tk" x="600.74" y="140.80" text-anchor="middle">800</text>
<text class="tk" x="641.00" y="140.80" text-anchor="middle">1000</text>
<text class="tk" x="430.00" y="125.80" text-anchor="end">0</text>
<text class="tk" x="430.00" y="73.85" text-anchor="end">0.05</text>
<text class="tk" x="430.00" y="21.90" text-anchor="end">0.1</text>
<path class="ax" d="M439.70 122.30 v5.2 M479.96 122.30 v5.2 M520.22 122.30 v5.2 M560.48 122.30 v5.2 M600.74 122.30 v5.2 M641.00 122.30 v5.2 M439.70 122.30 h-5.2 M439.70 70.35 h-5.2 M439.70 18.40 h-5.2 "/>
<path class="da" d="M442.09 18.40 L442.12 19.09 L442.22 21.56 L442.32 23.96 L442.42 26.29 L442.52 28.55 L442.62 30.73 L442.72 32.84 L442.82 34.87 L442.92 36.83 L443.02 38.70 L443.12 40.50 L443.22 42.21 L443.32 43.84 L443.42 45.39 L443.52 46.85 L443.63 48.12 L443.73 49.26 L443.83 50.40 L443.93 51.65 L444.03 53.00 L444.13 54.40 L444.23 55.86 L444.33 57.37 L444.43 58.91 L444.53 60.49 L444.63 62.08 L444.73 63.69 L444.83 65.31 L444.93 66.93 L445.03 68.54 L445.14 70.14 L445.24 71.71 L445.34 73.25 L445.44 74.75 L445.54 76.20 L445.64 77.60 L445.74 78.94 L445.84 80.20 L445.94 81.39 L446.04 82.50 L446.14 83.51 L446.24 84.50 L446.34 85.46 L446.44 86.40 L446.54 87.33 L446.64 88.22 L446.75 89.10 L446.85 89.95 L446.95 90.77 L447.05 91.57 L447.15 92.35 L447.25 93.09 L447.35 93.81 L447.45 94.49 L447.55 95.15 L447.65 95.78 L447.75 96.37 L447.85 96.94 L447.95 97.47 L448.05 97.97 L448.15 98.45 L448.26 98.93 L448.36 99.40 L448.46 99.86 L448.56 100.31 L448.66 100.76 L448.76 101.19 L448.86 101.61 L448.96 102.03 L449.06 102.43 L449.16 102.83 L449.26 103.22 L449.36 103.59 L449.46 103.96 L449.56 104.32 L449.66 104.67 L449.76 105.01 L449.87 105.34 L449.97 105.66 L450.07 105.97 L450.17 106.27 L450.27 106.56 L450.37 106.85 L450.47 107.12 L450.57 107.38 L450.67 107.63 L450.77 107.88 L450.87 108.11 L450.97 108.33 L451.07 108.55 L451.17 108.75 L451.27 108.94 L451.38 109.14 L451.48 109.33 L451.58 109.52 L451.68 109.70 L451.78 109.89 L452.18 110.59 L452.58 111.25 L452.99 111.85 L453.39 112.38 L453.79 112.83 L454.19 113.21 L454.60 113.49 L455.00 113.69 L455.40 113.87 L455.80 114.03 L456.21 114.19 L456.61 114.32 L457.01 114.44 L457.41 114.54 L457.82 114.62 L458.22 114.67 L458.62 114.70 L459.02 114.70 L459.43 114.68 L459.83 114.65 L460.23 114.60 L460.64 114.55 L461.04 114.48 L461.44 114.40 L461.84 114.31 L462.25 114.21 L462.65 114.10 L463.05 113.99 L463.45 113.87 L463.86 113.74 L464.26 113.61 L464.66 113.48 L465.06 113.35 L465.47 113.20 L465.87 113.03 L466.27 112.83 L466.67 112.60 L467.08 112.35 L467.48 112.08 L467.88 111.79 L468.28 111.49 L468.69 111.17 L469.09 110.84 L469.49 110.50 L469.89 110.16 L470.30 109.82 L470.70 109.47 L471.10 109.13 L471.51 108.80 L471.91 108.45 L472.31 108.10 L472.71 107.73 L473.12 107.36 L473.52 106.97 L473.92 106.57 L474.32 106.17 L474.73 105.76 L475.13 105.35 L475.53 104.93 L475.93 104.52 L476.34 104.10 L476.74 103.68 L477.14 103.27 L477.54 102.86 L477.95 102.45 L478.35 102.04 L478.75 101.62 L479.15 101.20 L479.56 100.77 L479.96 100.33 L480.36 99.90 L480.77 99.46 L481.17 99.03 L481.57 98.61 L481.97 98.19 L482.38 97.78 L482.78 97.38 L483.18 97.00 L483.58 96.63 L483.99 96.28 L484.39 95.95 L484.79 95.62 L485.19 95.29 L485.60 94.96 L486.00 94.64 L486.40 94.33 L486.80 94.02 L487.21 93.72 L487.61 93.43 L488.01 93.15 L488.41 92.88 L488.82 92.63 L489.22 92.39 L489.62 92.17 L490.02 91.96 L490.43 91.77 L490.83 91.60 L491.23 91.44 L491.64 91.28 L492.04 91.12 L492.44 90.98 L492.84 90.83 L493.25 90.69 L493.65 90.56 L494.05 90.44 L494.45 90.32 L494.86 90.21 L495.26 90.11 L495.66 90.02 L496.06 89.94 L496.47 89.87 L496.87 89.80 L497.27 89.75 L497.67 89.70 L498.08 89.65 L498.48 89.60 L498.88 89.56 L499.28 89.51 L499.69 89.47 L500.09 89.44 L500.49 89.40 L500.90 89.36 L501.30 89.33 L501.70 89.30 L502.10 89.27 L502.51 89.24 L502.91 89.22 L503.31 89.19 L503.71 89.16 L504.12 89.14 L504.52 89.12 L504.92 89.09 L505.32 89.07 L505.73 89.05 L506.13 89.03 L506.53 89.01 L506.93 88.99 L507.34 88.97 L507.74 88.96 L508.14 88.94 L508.54 88.92 L508.95 88.91 L509.35 88.89 L509.75 88.88 L510.15 88.86 L510.56 88.85 L510.96 88.83 L511.36 88.82 L511.77 88.80 L512.17 88.79 L512.57 88.77 L512.97 88.76 L513.38 88.74 L513.78 88.73 L514.18 88.71 L514.58 88.69 L514.99 88.68 L515.39 88.66 L515.79 88.64 L516.19 88.62 L516.60 88.61 L517.00 88.59 L517.40 88.57 L517.80 88.56 L518.21 88.54 L518.61 88.52 L519.01 88.50 L519.41 88.49 L519.82 88.47 L520.22 88.45 L524.25 88.28 L528.27 88.11 L532.30 87.94 L536.32 87.76 L540.35 87.59 L544.38 87.42 L548.40 87.24 L552.43 87.07 L556.45 86.89 L560.48 86.72 L564.51 86.54 L568.53 86.37 L572.56 86.19 L576.58 86.01 L580.61 85.84 L584.64 85.66 L588.66 85.48 L592.69 85.30 L596.71 85.12 L600.74 84.94 L604.77 84.76 L608.79 84.58 L612.82 84.40 L616.84 84.21 L620.87 84.03 L624.90 83.84 L628.92 83.66 L632.95 83.47 L636.97 83.29 L641.00 83.10"/>
<path class="da" d="M387.40 173.22 L387.54 174.15 L387.69 175.06 L387.83 175.95 L387.98 176.83 L388.12 177.69 L388.26 178.54 L388.41 179.36 L388.55 180.17 L388.70 180.97 L388.84 181.74 L388.99 182.50 L389.13 183.24 L389.27 183.96 L389.42 184.66 L389.56 185.35 L389.71 186.01 L389.85 186.66 L389.99 187.29 L390.14 187.90 L390.28 188.49 L390.43 189.06 L390.57 189.61 L390.71 190.14 L390.86 190.65 L391.00 191.14 L391.15 191.62 L391.29 192.09 L391.43 192.54 L391.58 192.98 L391.72 193.40 L391.87 193.81 L392.01 194.20 L392.16 194.57 L392.30 194.93 L392.44 195.27 L392.59 195.60 L392.73 195.91 L392.88 196.20 L393.02 196.46 L393.16 196.69 L393.31 196.91 L393.45 197.16 L393.60 197.43 L393.74 197.71 L393.88 198.01 L394.03 198.31 L394.17 198.62 L394.32 198.93 L394.46 199.25 L394.61 199.57 L394.75 199.90 L394.89 200.22 L395.04 200.54 L395.18 200.86 L395.33 201.18 L395.47 201.48 L395.61 201.78 L395.76 202.08 L395.90 202.36 L396.05 202.62 L396.19 202.88 L396.33 203.11 L396.48 203.34 L396.62 203.54 L396.77 203.74 L396.91 203.93 L397.05 204.12 L397.20 204.30 L397.34 204.48 L397.49 204.66 L397.63 204.83 L397.78 204.99 L397.92 205.15 L398.06 205.31 L398.21 205.46 L398.35 205.60 L398.50 205.74 L398.64 205.87 L398.78 205.99 L398.93 206.11 L399.07 206.22 L399.22 206.33 L399.36 206.43 L399.50 206.53 L399.65 206.62 L399.79 206.72 L399.94 206.81 L400.08 206.90 L400.22 206.99 L400.37 207.08 L400.51 207.16 L400.66 207.24 L400.80 207.32 L400.95 207.40 L401.09 207.48 L401.23 207.56 L401.38 207.63 L401.52 207.70 L401.67 207.77 L401.81 207.84 L401.95 207.91 L402.10 207.97 L402.24 208.03 L402.39 208.09 L402.53 208.15 L402.67 208.21 L402.82 208.26 L402.96 208.31 L403.11 208.37 L403.25 208.41 L403.40 208.46 L403.54 208.51 L403.68 208.55 L403.83 208.59 L403.97 208.63 L404.12 208.67 L404.26 208.70 L404.40 208.74 L404.55 208.78 L404.69 208.82 L405.27 208.96 L405.84 209.09 L406.42 209.21 L407.00 209.31 L407.57 209.41 L408.15 209.48 L408.73 209.54 L409.30 209.58 L409.88 209.61 L410.46 209.65 L411.03 209.68 L411.61 209.70 L412.19 209.73 L412.76 209.75 L413.34 209.76 L413.91 209.77 L414.49 209.78 L415.07 209.78 L415.64 209.78 L416.22 209.77 L416.80 209.76 L417.37 209.75 L417.95 209.73 L418.53 209.72 L419.10 209.70 L419.68 209.68 L420.25 209.66 L420.83 209.64 L421.41 209.61 L421.98 209.59 L422.56 209.56 L423.14 209.54 L423.71 209.51 L424.29 209.48 L424.87 209.45 L425.44 209.41 L426.02 209.36 L426.60 209.31 L427.17 209.26 L427.75 209.20 L428.32 209.14 L428.90 209.07 L429.48 209.01 L430.05 208.94 L430.63 208.87 L431.21 208.80 L431.78 208.73 L432.36 208.67 L432.94 208.60 L433.51 208.53 L434.09 208.46 L434.66 208.39 L435.24 208.31 L435.82 208.23 L436.39 208.15 L436.97 208.07 L437.55 207.99 L438.12 207.91 L438.70 207.82 L439.28 207.74 L439.85 207.66 L440.43 207.57 L441.01 207.49 L441.58 207.41 L442.16 207.33 L442.73 207.25 L443.31 207.16 L443.89 207.08 L444.46 206.99 L445.04 206.90 L445.62 206.82 L446.19 206.73 L446.77 206.64 L447.35 206.56 L447.92 206.48 L448.50 206.39 L449.07 206.31 L449.65 206.24 L450.23 206.16 L450.80 206.09 L451.38 206.03 L451.96 205.96 L452.53 205.89 L453.11 205.83 L453.69 205.77 L454.26 205.70 L454.84 205.64 L455.42 205.58 L455.99 205.52 L456.57 205.47 L457.14 205.41 L457.72 205.36 L458.30 205.32 L458.87 205.27 L459.45 205.23 L460.03 205.19 L460.60 205.16 L461.18 205.13 L461.76 205.09 L462.33 205.06 L462.91 205.03 L463.48 205.00 L464.06 204.98 L464.64 204.95 L465.21 204.92 L465.79 204.90 L466.37 204.88 L466.94 204.86 L467.52 204.84 L468.10 204.82 L468.67 204.81 L469.25 204.80 L469.83 204.79 L470.40 204.78 L470.98 204.77 L471.55 204.76 L472.13 204.75 L472.71 204.74 L473.28 204.73 L473.86 204.72 L474.44 204.72 L475.01 204.71 L475.59 204.70 L476.17 204.70 L476.74 204.69 L477.32 204.69 L477.89 204.68 L478.47 204.67 L479.05 204.67 L479.62 204.66 L480.20 204.66 L480.78 204.66 L481.35 204.65 L481.93 204.65 L482.51 204.64 L483.08 204.64 L483.66 204.64 L484.24 204.63 L484.81 204.63 L485.39 204.62 L485.96 204.62 L486.54 204.62 L487.12 204.62 L487.69 204.61 L488.27 204.61 L488.85 204.61 L489.42 204.60 L490.00 204.60 L490.58 204.60 L491.15 204.59 L491.73 204.59 L492.30 204.59 L492.88 204.59 L493.46 204.58 L494.03 204.58 L494.61 204.58 L495.19 204.57 L495.76 204.57 L496.34 204.56 L496.92 204.56 L497.49 204.56 L498.07 204.55 L498.65 204.55 L499.22 204.55 L499.80 204.54 L500.37 204.54 L500.95 204.54 L501.53 204.53 L502.10 204.53 L502.68 204.53 L508.44 204.49 L514.21 204.46 L519.97 204.42 L525.74 204.39 L531.50 204.35 L537.26 204.32 L543.03 204.29 L548.79 204.25 L554.56 204.22 L560.32 204.18 L566.08 204.15 L571.85 204.11 L577.61 204.07 L583.38 204.04 L589.14 204.00 L594.90 203.97 L600.67 203.93 L606.43 203.90 L612.20 203.86 L617.96 203.82 L623.72 203.79 L629.49 203.75 L635.25 203.72 L641.02 203.68 L646.78 203.64 L652.54 203.61 L658.31 203.57 L664.07 203.53 L669.84 203.49 L675.60 203.46"/>
<path class="so" d="M439.70 108.00 L439.80 108.14 L439.90 108.29 L440.00 108.43 L440.10 108.57 L440.20 108.71 L440.30 108.85 L440.40 108.99 L440.51 109.12 L440.61 109.26 L440.71 109.39 L440.81 109.53 L440.91 109.66 L441.01 109.79 L441.11 109.93 L441.21 110.06 L441.31 110.18 L441.41 110.31 L441.51 110.44 L441.61 110.56 L441.71 110.69 L441.81 110.81 L441.91 110.94 L442.01 111.06 L442.12 111.18 L442.22 111.29 L442.32 111.41 L442.42 111.53 L442.52 111.64 L442.62 111.76 L442.72 111.87 L442.82 111.98 L442.92 112.09 L443.02 112.19 L443.12 112.30 L443.22 112.41 L443.32 112.51 L443.42 112.61 L443.52 112.71 L443.63 112.81 L443.73 112.91 L443.83 113.00 L443.93 113.10 L444.03 113.19 L444.13 113.28 L444.23 113.37 L444.33 113.46 L444.43 113.54 L444.53 113.63 L444.63 113.71 L444.73 113.79 L444.83 113.87 L444.93 113.95 L445.03 114.03 L445.14 114.11 L445.24 114.19 L445.34 114.27 L445.44 114.34 L445.54 114.42 L445.64 114.49 L445.74 114.57 L445.84 114.64 L445.94 114.71 L446.04 114.79 L446.14 114.86 L446.24 114.93 L446.34 115.00 L446.44 115.07 L446.54 115.13 L446.64 115.20 L446.75 115.27 L446.85 115.33 L446.95 115.40 L447.05 115.46 L447.15 115.53 L447.25 115.59 L447.35 115.65 L447.45 115.71 L447.55 115.77 L447.65 115.83 L447.75 115.89 L447.85 115.95 L447.95 116.00 L448.05 116.06 L448.15 116.12 L448.26 116.17 L448.36 116.23 L448.46 116.28 L448.56 116.33 L448.66 116.38 L448.76 116.44 L448.86 116.49 L448.96 116.54 L449.06 116.59 L449.16 116.63 L449.26 116.68 L449.36 116.73 L449.46 116.78 L449.56 116.82 L449.66 116.87 L449.76 116.92 L449.87 116.97 L449.97 117.02 L450.07 117.07 L450.17 117.12 L450.27 117.17 L450.37 117.22 L450.47 117.27 L450.57 117.31 L450.67 117.36 L450.77 117.41 L450.87 117.46 L450.97 117.51 L451.07 117.56 L451.17 117.61 L451.27 117.65 L451.38 117.70 L451.48 117.75 L451.58 117.79 L451.68 117.84 L451.78 117.88 L452.18 118.05 L452.58 118.21 L452.99 118.35 L453.39 118.47 L453.79 118.57 L454.19 118.64 L454.60 118.69 L455.00 118.71 L455.40 118.72 L455.80 118.73 L456.21 118.74 L456.61 118.75 L457.01 118.76 L457.41 118.77 L457.82 118.78 L458.22 118.78 L458.62 118.79 L459.02 118.79 L459.43 118.80 L459.83 118.80 L460.23 118.80 L460.64 118.80 L461.04 118.78 L461.44 118.74 L461.84 118.68 L462.25 118.61 L462.65 118.53 L463.05 118.43 L463.45 118.32 L463.86 118.20 L464.26 118.07 L464.66 117.94 L465.06 117.80 L465.47 117.66 L465.87 117.51 L466.27 117.36 L466.67 117.21 L467.08 117.05 L467.48 116.86 L467.88 116.66 L468.28 116.43 L468.69 116.18 L469.09 115.91 L469.49 115.63 L469.89 115.34 L470.30 115.04 L470.70 114.73 L471.10 114.41 L471.51 114.09 L471.91 113.76 L472.31 113.43 L472.71 113.11 L473.12 112.79 L473.52 112.46 L473.92 112.11 L474.32 111.75 L474.73 111.37 L475.13 110.99 L475.53 110.59 L475.93 110.20 L476.34 109.80 L476.74 109.39 L477.14 108.99 L477.54 108.60 L477.95 108.21 L478.35 107.83 L478.75 107.46 L479.15 107.11 L479.56 106.77 L479.96 106.43 L480.36 106.10 L480.77 105.76 L481.17 105.43 L481.57 105.10 L481.97 104.77 L482.38 104.46 L482.78 104.14 L483.18 103.84 L483.58 103.54 L483.99 103.25 L484.39 102.97 L484.79 102.71 L485.19 102.45 L485.60 102.22 L486.00 101.99 L486.40 101.77 L486.80 101.55 L487.21 101.33 L487.61 101.12 L488.01 100.91 L488.41 100.71 L488.82 100.52 L489.22 100.33 L489.62 100.16 L490.02 99.99 L490.43 99.83 L490.83 99.68 L491.23 99.55 L491.64 99.42 L492.04 99.32 L492.44 99.22 L492.84 99.12 L493.25 99.03 L493.65 98.94 L494.05 98.85 L494.45 98.76 L494.86 98.68 L495.26 98.61 L495.66 98.54 L496.06 98.47 L496.47 98.41 L496.87 98.36 L497.27 98.31 L497.67 98.27 L498.08 98.23 L498.48 98.20 L498.88 98.18 L499.28 98.15 L499.69 98.13 L500.09 98.11 L500.49 98.10 L500.90 98.08 L501.30 98.07 L501.70 98.05 L502.10 98.04 L502.51 98.03 L502.91 98.02 L503.31 98.00 L503.71 97.99 L504.12 97.98 L504.52 97.97 L504.92 97.96 L505.32 97.94 L505.73 97.93 L506.13 97.91 L506.53 97.89 L506.93 97.88 L507.34 97.86 L507.74 97.84 L508.14 97.82 L508.54 97.80 L508.95 97.78 L509.35 97.76 L509.75 97.74 L510.15 97.71 L510.56 97.69 L510.96 97.67 L511.36 97.65 L511.77 97.63 L512.17 97.61 L512.57 97.59 L512.97 97.57 L513.38 97.55 L513.78 97.53 L514.18 97.51 L514.58 97.49 L514.99 97.47 L515.39 97.46 L515.79 97.44 L516.19 97.42 L516.60 97.40 L517.00 97.39 L517.40 97.37 L517.80 97.35 L518.21 97.33 L518.61 97.31 L519.01 97.30 L519.41 97.28 L519.82 97.26 L520.22 97.24 L524.25 97.07 L528.27 96.89 L532.30 96.72 L536.32 96.55 L540.35 96.37 L544.38 96.20 L548.40 96.04 L552.43 95.87 L556.45 95.71 L560.48 95.54 L564.51 95.38 L568.53 95.22 L572.56 95.07 L576.58 94.92 L580.61 94.76 L584.64 94.62 L588.66 94.47 L592.69 94.33 L596.71 94.19 L600.74 94.05 L604.77 93.92 L608.79 93.79 L612.82 93.67 L616.84 93.55 L620.87 93.43 L624.90 93.31 L628.92 93.20 L632.95 93.10 L636.97 93.00 L641.00 92.90"/>
<path class="so" d="M387.40 208.44 L387.54 208.47 L387.69 208.50 L387.83 208.52 L387.98 208.55 L388.12 208.58 L388.26 208.61 L388.41 208.64 L388.55 208.66 L388.70 208.69 L388.84 208.72 L388.99 208.74 L389.13 208.77 L389.27 208.80 L389.42 208.82 L389.56 208.85 L389.71 208.88 L389.85 208.90 L389.99 208.93 L390.14 208.95 L390.28 208.98 L390.43 209.00 L390.57 209.03 L390.71 209.05 L390.86 209.07 L391.00 209.10 L391.15 209.12 L391.29 209.14 L391.43 209.17 L391.58 209.19 L391.72 209.21 L391.87 209.23 L392.01 209.26 L392.16 209.28 L392.30 209.30 L392.44 209.32 L392.59 209.34 L392.73 209.36 L392.88 209.38 L393.02 209.40 L393.16 209.42 L393.31 209.44 L393.45 209.46 L393.60 209.48 L393.74 209.50 L393.88 209.51 L394.03 209.53 L394.17 209.55 L394.32 209.56 L394.46 209.58 L394.61 209.60 L394.75 209.61 L394.89 209.63 L395.04 209.65 L395.18 209.66 L395.33 209.68 L395.47 209.69 L395.61 209.71 L395.76 209.72 L395.90 209.74 L396.05 209.75 L396.19 209.77 L396.33 209.78 L396.48 209.80 L396.62 209.81 L396.77 209.82 L396.91 209.84 L397.05 209.85 L397.20 209.87 L397.34 209.88 L397.49 209.89 L397.63 209.91 L397.78 209.92 L397.92 209.93 L398.06 209.94 L398.21 209.96 L398.35 209.97 L398.50 209.98 L398.64 209.99 L398.78 210.01 L398.93 210.02 L399.07 210.03 L399.22 210.04 L399.36 210.05 L399.50 210.06 L399.65 210.07 L399.79 210.08 L399.94 210.10 L400.08 210.11 L400.22 210.12 L400.37 210.13 L400.51 210.14 L400.66 210.15 L400.80 210.16 L400.95 210.17 L401.09 210.18 L401.23 210.19 L401.38 210.19 L401.52 210.20 L401.67 210.21 L401.81 210.22 L401.95 210.23 L402.10 210.24 L402.24 210.25 L402.39 210.26 L402.53 210.27 L402.67 210.28 L402.82 210.29 L402.96 210.30 L403.11 210.31 L403.25 210.32 L403.40 210.33 L403.54 210.34 L403.68 210.35 L403.83 210.36 L403.97 210.37 L404.12 210.38 L404.26 210.39 L404.40 210.40 L404.55 210.41 L404.69 210.42 L405.27 210.45 L405.84 210.48 L406.42 210.51 L407.00 210.53 L407.57 210.55 L408.15 210.57 L408.73 210.58 L409.30 210.58 L409.88 210.58 L410.46 210.59 L411.03 210.59 L411.61 210.59 L412.19 210.59 L412.76 210.59 L413.34 210.60 L413.91 210.60 L414.49 210.60 L415.07 210.60 L415.64 210.60 L416.22 210.60 L416.80 210.60 L417.37 210.60 L417.95 210.59 L418.53 210.59 L419.10 210.58 L419.68 210.56 L420.25 210.54 L420.83 210.53 L421.41 210.50 L421.98 210.48 L422.56 210.45 L423.14 210.43 L423.71 210.40 L424.29 210.37 L424.87 210.34 L425.44 210.31 L426.02 210.28 L426.60 210.25 L427.17 210.21 L427.75 210.17 L428.32 210.12 L428.90 210.08 L429.48 210.02 L430.05 209.97 L430.63 209.91 L431.21 209.85 L431.78 209.78 L432.36 209.72 L432.94 209.66 L433.51 209.59 L434.09 209.53 L434.66 209.46 L435.24 209.40 L435.82 209.33 L436.39 209.26 L436.97 209.19 L437.55 209.11 L438.12 209.04 L438.70 208.96 L439.28 208.88 L439.85 208.80 L440.43 208.72 L441.01 208.64 L441.58 208.56 L442.16 208.48 L442.73 208.40 L443.31 208.33 L443.89 208.26 L444.46 208.19 L445.04 208.12 L445.62 208.06 L446.19 207.99 L446.77 207.92 L447.35 207.86 L447.92 207.79 L448.50 207.73 L449.07 207.67 L449.65 207.61 L450.23 207.55 L450.80 207.49 L451.38 207.43 L451.96 207.38 L452.53 207.33 L453.11 207.28 L453.69 207.24 L454.26 207.19 L454.84 207.15 L455.42 207.10 L455.99 207.06 L456.57 207.02 L457.14 206.98 L457.72 206.94 L458.30 206.90 L458.87 206.87 L459.45 206.84 L460.03 206.80 L460.60 206.77 L461.18 206.75 L461.76 206.72 L462.33 206.70 L462.91 206.68 L463.48 206.66 L464.06 206.64 L464.64 206.62 L465.21 206.61 L465.79 206.59 L466.37 206.57 L466.94 206.56 L467.52 206.55 L468.10 206.53 L468.67 206.52 L469.25 206.51 L469.83 206.50 L470.40 206.49 L470.98 206.48 L471.55 206.48 L472.13 206.47 L472.71 206.47 L473.28 206.46 L473.86 206.46 L474.44 206.46 L475.01 206.45 L475.59 206.45 L476.17 206.45 L476.74 206.45 L477.32 206.44 L477.89 206.44 L478.47 206.44 L479.05 206.44 L479.62 206.43 L480.20 206.43 L480.78 206.43 L481.35 206.43 L481.93 206.42 L482.51 206.42 L483.08 206.42 L483.66 206.41 L484.24 206.41 L484.81 206.41 L485.39 206.40 L485.96 206.40 L486.54 206.39 L487.12 206.39 L487.69 206.38 L488.27 206.38 L488.85 206.38 L489.42 206.37 L490.00 206.37 L490.58 206.36 L491.15 206.36 L491.73 206.36 L492.30 206.35 L492.88 206.35 L493.46 206.34 L494.03 206.34 L494.61 206.34 L495.19 206.33 L495.76 206.33 L496.34 206.33 L496.92 206.32 L497.49 206.32 L498.07 206.31 L498.65 206.31 L499.22 206.31 L499.80 206.30 L500.37 206.30 L500.95 206.30 L501.53 206.29 L502.10 206.29 L502.68 206.29 L508.44 206.25 L514.21 206.22 L519.97 206.18 L525.74 206.15 L531.50 206.11 L537.26 206.08 L543.03 206.04 L548.79 206.01 L554.56 205.98 L560.32 205.95 L566.08 205.91 L571.85 205.88 L577.61 205.85 L583.38 205.82 L589.14 205.79 L594.90 205.76 L600.67 205.73 L606.43 205.70 L612.20 205.68 L617.96 205.65 L623.72 205.62 L629.49 205.60 L635.25 205.57 L641.02 205.55 L646.78 205.52 L652.54 205.50 L658.31 205.48 L664.07 205.46 L669.84 205.44 L675.60 205.42"/>
<path class="da" d="M439.70 121.50 L439.80 121.48 L439.90 121.45 L440.00 121.43 L440.10 121.41 L440.20 121.39 L440.30 121.36 L440.40 121.34 L440.51 121.32 L440.61 121.30 L440.71 121.28 L440.81 121.26 L440.91 121.24 L441.01 121.22 L441.11 121.20 L441.21 121.19 L441.31 121.17 L441.41 121.16 L441.51 121.15 L441.61 121.14 L441.71 121.13 L441.81 121.12 L441.91 121.11 L442.01 121.10 L442.12 121.09 L442.22 121.08 L442.32 121.07 L442.42 121.06 L442.52 121.05 L442.62 121.04 L442.72 121.04 L442.82 121.03 L442.92 121.02 L443.02 121.01 L443.12 121.00 L443.22 120.99 L443.32 120.99 L443.42 120.98 L443.52 120.97 L443.63 120.96 L443.73 120.96 L443.83 120.95 L443.93 120.94 L444.03 120.94 L444.13 120.93 L444.23 120.92 L444.33 120.92 L444.43 120.91 L444.53 120.90 L444.63 120.90 L444.73 120.89 L444.83 120.88 L444.93 120.88 L445.03 120.87 L445.14 120.87 L445.24 120.86 L445.34 120.85 L445.44 120.85 L445.54 120.84 L445.64 120.84 L445.74 120.83 L445.84 120.83 L445.94 120.82 L446.04 120.82 L446.14 120.81 L446.24 120.81 L446.34 120.80 L446.44 120.80 L446.54 120.79 L446.64 120.79 L446.75 120.79 L446.85 120.78 L446.95 120.78 L447.05 120.77 L447.15 120.77 L447.25 120.76 L447.35 120.76 L447.45 120.76 L447.55 120.75 L447.65 120.75 L447.75 120.74 L447.85 120.74 L447.95 120.74 L448.05 120.73 L448.15 120.73 L448.26 120.72 L448.36 120.72 L448.46 120.72 L448.56 120.71 L448.66 120.71 L448.76 120.71 L448.86 120.70 L448.96 120.70 L449.06 120.69 L449.16 120.69 L449.26 120.69 L449.36 120.68 L449.46 120.68 L449.56 120.68 L449.66 120.67 L449.76 120.67 L449.87 120.67 L449.97 120.67 L450.07 120.66 L450.17 120.66 L450.27 120.66 L450.37 120.65 L450.47 120.65 L450.57 120.65 L450.67 120.65 L450.77 120.64 L450.87 120.64 L450.97 120.64 L451.07 120.63 L451.17 120.63 L451.27 120.63 L451.38 120.63 L451.48 120.62 L451.58 120.62 L451.68 120.62 L451.78 120.62 L452.18 120.61 L452.58 120.60 L452.99 120.59 L453.39 120.58 L453.79 120.57 L454.19 120.56 L454.60 120.56 L455.00 120.55 L455.40 120.54 L455.80 120.53 L456.21 120.52 L456.61 120.51 L457.01 120.49 L457.41 120.48 L457.82 120.47 L458.22 120.46 L458.62 120.45 L459.02 120.44 L459.43 120.43 L459.83 120.42 L460.23 120.41 L460.64 120.40 L461.04 120.39 L461.44 120.37 L461.84 120.36 L462.25 120.34 L462.65 120.33 L463.05 120.31 L463.45 120.28 L463.86 120.26 L464.26 120.23 L464.66 120.18 L465.06 120.11 L465.47 120.02 L465.87 119.91 L466.27 119.79 L466.67 119.66 L467.08 119.52 L467.48 119.38 L467.88 119.22 L468.28 119.06 L468.69 118.91 L469.09 118.73 L469.49 118.53 L469.89 118.31 L470.30 118.07 L470.70 117.81 L471.10 117.54 L471.51 117.26 L471.91 116.97 L472.31 116.68 L472.71 116.39 L473.12 116.09 L473.52 115.77 L473.92 115.44 L474.32 115.09 L474.73 114.73 L475.13 114.36 L475.53 114.00 L475.93 113.64 L476.34 113.28 L476.74 112.93 L477.14 112.59 L477.54 112.27 L477.95 111.97 L478.35 111.67 L478.75 111.38 L479.15 111.10 L479.56 110.81 L479.96 110.53 L480.36 110.26 L480.77 109.99 L481.17 109.72 L481.57 109.46 L481.97 109.21 L482.38 108.97 L482.78 108.74 L483.18 108.52 L483.58 108.30 L483.99 108.10 L484.39 107.91 L484.79 107.72 L485.19 107.53 L485.60 107.34 L486.00 107.16 L486.40 106.98 L486.80 106.80 L487.21 106.63 L487.61 106.47 L488.01 106.32 L488.41 106.17 L488.82 106.04 L489.22 105.91 L489.62 105.81 L490.02 105.71 L490.43 105.63 L490.83 105.56 L491.23 105.50 L491.64 105.44 L492.04 105.38 L492.44 105.33 L492.84 105.28 L493.25 105.23 L493.65 105.18 L494.05 105.14 L494.45 105.10 L494.86 105.06 L495.26 105.02 L495.66 104.99 L496.06 104.95 L496.47 104.92 L496.87 104.89 L497.27 104.87 L497.67 104.84 L498.08 104.82 L498.48 104.80 L498.88 104.78 L499.28 104.76 L499.69 104.75 L500.09 104.73 L500.49 104.72 L500.90 104.70 L501.30 104.69 L501.70 104.67 L502.10 104.66 L502.51 104.65 L502.91 104.64 L503.31 104.63 L503.71 104.62 L504.12 104.61 L504.52 104.60 L504.92 104.59 L505.32 104.58 L505.73 104.57 L506.13 104.56 L506.53 104.55 L506.93 104.54 L507.34 104.53 L507.74 104.52 L508.14 104.51 L508.54 104.51 L508.95 104.50 L509.35 104.49 L509.75 104.48 L510.15 104.48 L510.56 104.47 L510.96 104.46 L511.36 104.46 L511.77 104.45 L512.17 104.44 L512.57 104.44 L512.97 104.43 L513.38 104.42 L513.78 104.41 L514.18 104.40 L514.58 104.40 L514.99 104.39 L515.39 104.38 L515.79 104.37 L516.19 104.36 L516.60 104.35 L517.00 104.34 L517.40 104.33 L517.80 104.32 L518.21 104.32 L518.61 104.31 L519.01 104.30 L519.41 104.29 L519.82 104.28 L520.22 104.27 L524.25 104.18 L528.27 104.08 L532.30 103.99 L536.32 103.89 L540.35 103.79 L544.38 103.69 L548.40 103.58 L552.43 103.48 L556.45 103.37 L560.48 103.25 L564.51 103.14 L568.53 103.02 L572.56 102.90 L576.58 102.78 L580.61 102.65 L584.64 102.53 L588.66 102.39 L592.69 102.26 L596.71 102.12 L600.74 101.98 L604.77 101.84 L608.79 101.69 L612.82 101.54 L616.84 101.39 L620.87 101.23 L624.90 101.07 L628.92 100.91 L632.95 100.74 L636.97 100.57 L641.00 100.40"/>
<path class="da" d="M387.40 211.14 L387.54 211.14 L387.69 211.13 L387.83 211.13 L387.98 211.12 L388.12 211.12 L388.26 211.11 L388.41 211.11 L388.55 211.10 L388.70 211.10 L388.84 211.10 L388.99 211.09 L389.13 211.09 L389.27 211.08 L389.42 211.08 L389.56 211.08 L389.71 211.07 L389.85 211.07 L389.99 211.07 L390.14 211.07 L390.28 211.07 L390.43 211.06 L390.57 211.06 L390.71 211.06 L390.86 211.06 L391.00 211.06 L391.15 211.05 L391.29 211.05 L391.43 211.05 L391.58 211.05 L391.72 211.05 L391.87 211.05 L392.01 211.04 L392.16 211.04 L392.30 211.04 L392.44 211.04 L392.59 211.04 L392.73 211.04 L392.88 211.03 L393.02 211.03 L393.16 211.03 L393.31 211.03 L393.45 211.03 L393.60 211.03 L393.74 211.03 L393.88 211.02 L394.03 211.02 L394.17 211.02 L394.32 211.02 L394.46 211.02 L394.61 211.02 L394.75 211.02 L394.89 211.02 L395.04 211.01 L395.18 211.01 L395.33 211.01 L395.47 211.01 L395.61 211.01 L395.76 211.01 L395.90 211.01 L396.05 211.01 L396.19 211.01 L396.33 211.00 L396.48 211.00 L396.62 211.00 L396.77 211.00 L396.91 211.00 L397.05 211.00 L397.20 211.00 L397.34 211.00 L397.49 211.00 L397.63 211.00 L397.78 211.00 L397.92 210.99 L398.06 210.99 L398.21 210.99 L398.35 210.99 L398.50 210.99 L398.64 210.99 L398.78 210.99 L398.93 210.99 L399.07 210.99 L399.22 210.99 L399.36 210.99 L399.50 210.99 L399.65 210.98 L399.79 210.98 L399.94 210.98 L400.08 210.98 L400.22 210.98 L400.37 210.98 L400.51 210.98 L400.66 210.98 L400.80 210.98 L400.95 210.98 L401.09 210.98 L401.23 210.98 L401.38 210.98 L401.52 210.98 L401.67 210.97 L401.81 210.97 L401.95 210.97 L402.10 210.97 L402.24 210.97 L402.39 210.97 L402.53 210.97 L402.67 210.97 L402.82 210.97 L402.96 210.97 L403.11 210.97 L403.25 210.97 L403.40 210.97 L403.54 210.97 L403.68 210.97 L403.83 210.97 L403.97 210.97 L404.12 210.97 L404.26 210.96 L404.40 210.96 L404.55 210.96 L404.69 210.96 L405.27 210.96 L405.84 210.96 L406.42 210.96 L407.00 210.96 L407.57 210.95 L408.15 210.95 L408.73 210.95 L409.30 210.95 L409.88 210.95 L410.46 210.95 L411.03 210.94 L411.61 210.94 L412.19 210.94 L412.76 210.94 L413.34 210.93 L413.91 210.93 L414.49 210.93 L415.07 210.93 L415.64 210.93 L416.22 210.92 L416.80 210.92 L417.37 210.92 L417.95 210.92 L418.53 210.91 L419.10 210.91 L419.68 210.91 L420.25 210.90 L420.83 210.90 L421.41 210.90 L421.98 210.89 L422.56 210.89 L423.14 210.88 L423.71 210.86 L424.29 210.84 L424.87 210.82 L425.44 210.80 L426.02 210.77 L426.60 210.74 L427.17 210.71 L427.75 210.68 L428.32 210.65 L428.90 210.62 L429.48 210.59 L430.05 210.55 L430.63 210.50 L431.21 210.45 L431.78 210.40 L432.36 210.35 L432.94 210.29 L433.51 210.23 L434.09 210.18 L434.66 210.12 L435.24 210.06 L435.82 209.99 L436.39 209.93 L436.97 209.86 L437.55 209.78 L438.12 209.71 L438.70 209.64 L439.28 209.57 L439.85 209.49 L440.43 209.42 L441.01 209.36 L441.58 209.29 L442.16 209.23 L442.73 209.17 L443.31 209.12 L443.89 209.06 L444.46 209.00 L445.04 208.94 L445.62 208.89 L446.19 208.84 L446.77 208.78 L447.35 208.73 L447.92 208.68 L448.50 208.63 L449.07 208.59 L449.65 208.54 L450.23 208.50 L450.80 208.46 L451.38 208.42 L451.96 208.38 L452.53 208.34 L453.11 208.31 L453.69 208.27 L454.26 208.23 L454.84 208.20 L455.42 208.16 L455.99 208.13 L456.57 208.10 L457.14 208.07 L457.72 208.05 L458.30 208.02 L458.87 208.00 L459.45 207.98 L460.03 207.96 L460.60 207.95 L461.18 207.94 L461.76 207.93 L462.33 207.92 L462.91 207.90 L463.48 207.89 L464.06 207.88 L464.64 207.87 L465.21 207.87 L465.79 207.86 L466.37 207.85 L466.94 207.84 L467.52 207.84 L468.10 207.83 L468.67 207.82 L469.25 207.82 L469.83 207.81 L470.40 207.81 L470.98 207.80 L471.55 207.80 L472.13 207.79 L472.71 207.79 L473.28 207.79 L473.86 207.78 L474.44 207.78 L475.01 207.78 L475.59 207.78 L476.17 207.77 L476.74 207.77 L477.32 207.77 L477.89 207.77 L478.47 207.76 L479.05 207.76 L479.62 207.76 L480.20 207.76 L480.78 207.76 L481.35 207.75 L481.93 207.75 L482.51 207.75 L483.08 207.75 L483.66 207.75 L484.24 207.74 L484.81 207.74 L485.39 207.74 L485.96 207.74 L486.54 207.74 L487.12 207.74 L487.69 207.74 L488.27 207.73 L488.85 207.73 L489.42 207.73 L490.00 207.73 L490.58 207.73 L491.15 207.73 L491.73 207.73 L492.30 207.72 L492.88 207.72 L493.46 207.72 L494.03 207.72 L494.61 207.72 L495.19 207.72 L495.76 207.71 L496.34 207.71 L496.92 207.71 L497.49 207.71 L498.07 207.71 L498.65 207.71 L499.22 207.70 L499.80 207.70 L500.37 207.70 L500.95 207.70 L501.53 207.70 L502.10 207.69 L502.68 207.69 L508.44 207.67 L514.21 207.66 L519.97 207.64 L525.74 207.62 L531.50 207.60 L537.26 207.58 L543.03 207.55 L548.79 207.53 L554.56 207.51 L560.32 207.49 L566.08 207.47 L571.85 207.44 L577.61 207.42 L583.38 207.39 L589.14 207.37 L594.90 207.34 L600.67 207.32 L606.43 207.29 L612.20 207.26 L617.96 207.23 L623.72 207.21 L629.49 207.18 L635.25 207.15 L641.02 207.12 L646.78 207.08 L652.54 207.05 L658.31 207.02 L664.07 206.99 L669.84 206.95 L675.60 206.92"/>
<text class="lt" x="396.00" y="21.6">B</text>
<text class="ti" x="531.40" y="249.0" text-anchor="middle">Peak hs−cTnI (× ULN)</text>
<text class="ti" transform="translate(355.90 107.4) rotate(-90)" text-anchor="middle">Predicted All−Cause 30−Day Mortality</text>
</svg>
</body></html>
